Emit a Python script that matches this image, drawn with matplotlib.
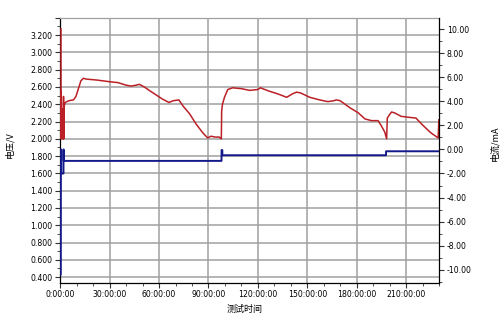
import matplotlib
matplotlib.use("Agg")
import matplotlib.pyplot as plt
from matplotlib.ticker import MultipleLocator, FuncFormatter

plt.rcParams['font.family'] = ['DejaVu Sans']

# Voltage (V) vs time (h)
v_time = [0.4, 0.45, 0.55, 0.7, 0.85, 1.0, 1.15, 1.3, 1.45, 1.6, 1.75, 1.85, 1.95, 2.1, 2.25,
          3.0, 5.0, 8.0, 9.5, 11.0, 12.5, 14.0, 16.0, 22.0, 30.0, 35.0, 40.0, 43.0, 46.0, 48.0,
          51.0, 54.0, 58.0, 62.0, 66.0, 68.5, 72.0, 74.5, 78.5, 82.5, 86.5, 89.5, 91.5, 94.0,
          96.5, 97.8, 98.0, 98.5, 99.7, 101.7, 104.7, 110.0, 115.0, 120.0, 121.5, 127.0, 132.0,
          137.5, 141.0, 143.5, 146.0, 151.5, 157.5, 162.5, 166.0, 167.7, 170.0, 175.8, 181.0,
          185.0, 189.0, 193.0, 195.0, 197.0, 198.2, 198.6, 200.0, 201.2, 203.0, 207.0, 211.0,
          216.0, 220.0, 225.0, 229.5, 229.9]
voltage = [3.27, 2.00, 2.55, 2.05, 2.35, 2.00, 2.20, 2.05, 2.30, 2.00, 2.20, 2.00, 2.49, 2.00, 2.37,
           2.42, 2.44, 2.45, 2.49, 2.58, 2.67, 2.70, 2.69, 2.68, 2.66, 2.65, 2.62, 2.61, 2.62, 2.63,
           2.60, 2.56, 2.51, 2.46, 2.42, 2.44, 2.45, 2.38, 2.29, 2.17, 2.07, 2.01, 2.03, 2.02,
           2.02, 2.00, 2.32, 2.40, 2.48, 2.57, 2.59, 2.58, 2.56, 2.57, 2.59, 2.55, 2.52,
           2.48, 2.52, 2.54, 2.53, 2.48, 2.45, 2.43, 2.44, 2.45, 2.44, 2.36, 2.30,
           2.23, 2.21, 2.21, 2.15, 2.08, 2.00, 2.24, 2.28, 2.31, 2.30, 2.26, 2.25,
           2.24, 2.16, 2.07, 2.01, 2.22]

# Current (mA) vs time (h)
i_time = [0.3, 0.35, 0.5, 0.51, 1.93, 1.95, 2.05, 2.06, 97.9, 97.95, 98.4, 98.45, 197.8, 197.85, 230.0]
current = [-10.4, 0.0, 0.0, -2.0, -2.0, 0.0, 0.0, -0.95, -0.95, -0.05, -0.05, -0.48, -0.48, -0.15, -0.15]

x_ticks = [0, 30, 60, 90, 120, 150, 180, 210]
v_ticks = [0.4, 0.6, 0.8, 1.0, 1.2, 1.4, 1.6, 1.8, 2.0, 2.2, 2.4, 2.6, 2.8, 3.0, 3.2]
i_ticks = [-10, -8, -6, -4, -2, 0, 2, 4, 6, 8, 10]

fig = plt.figure(figsize=(5.0, 3.17), dpi=100)
ax = fig.add_axes([0.1206, 0.108, 0.7574, 0.836])
ax2 = ax.twinx()

ax.plot(v_time, voltage, color='#BA2026', lw=1.1, zorder=3)
ax2.plot(i_time, current, color='#14198A', lw=1.4, zorder=3)

ax.set_xlim(0, 230)
ax.set_ylim(0.335, 3.4)
ax2.set_ylim(-11.1, 10.97)

ax.set_xticks(x_ticks)
ax.xaxis.set_minor_locator(MultipleLocator(10))
ax.xaxis.set_major_formatter(FuncFormatter(lambda v, p: f"{int(round(v))}:00:00"))
ax.set_yticks(v_ticks + [3.4])
ax.yaxis.set_minor_locator(MultipleLocator(0.1))
ax.yaxis.set_major_formatter(FuncFormatter(lambda v, p: "" if v > 3.3 else f"{v:.3f}"))
ax2.set_yticks(i_ticks)
ax2.yaxis.set_minor_locator(MultipleLocator(1))
ax2.yaxis.set_major_formatter(FuncFormatter(lambda v, p: f"{v:.2f}"))

ax.grid(True, which='major', color='#A0A0A0', lw=1.1)
ax.set_axisbelow(True)

for a in (ax, ax2):
    a.tick_params(which='major', length=3.5, width=0.8, labelsize=5.6, pad=2, color='#333333')
    a.tick_params(which='minor', length=2, width=0.6, color='#333333')
    for s in a.spines.values():
        s.set_linewidth(0.9)
ax.spines['top'].set_color('#A0A0A0')
for side in ('left', 'top', 'bottom'):
    ax2.spines[side].set_visible(False)
ax.spines['right'].set_visible(False)

cjk = ['Noto Sans CJK SC', 'DejaVu Sans']
ax.set_ylabel('电压/V', family=cjk, fontsize=6.5)
ax.yaxis.set_label_coords(-0.12, 0.52)
ax2.set_ylabel('电流/mA', family=cjk, fontsize=6.5)
ax2.yaxis.set_label_coords(1.135, 0.527)
ax.set_xlabel('测试时间', family=cjk, fontsize=6.5)
ax.xaxis.set_label_coords(0.488, -0.084)

fig.savefig('out.png', dpi=100)
